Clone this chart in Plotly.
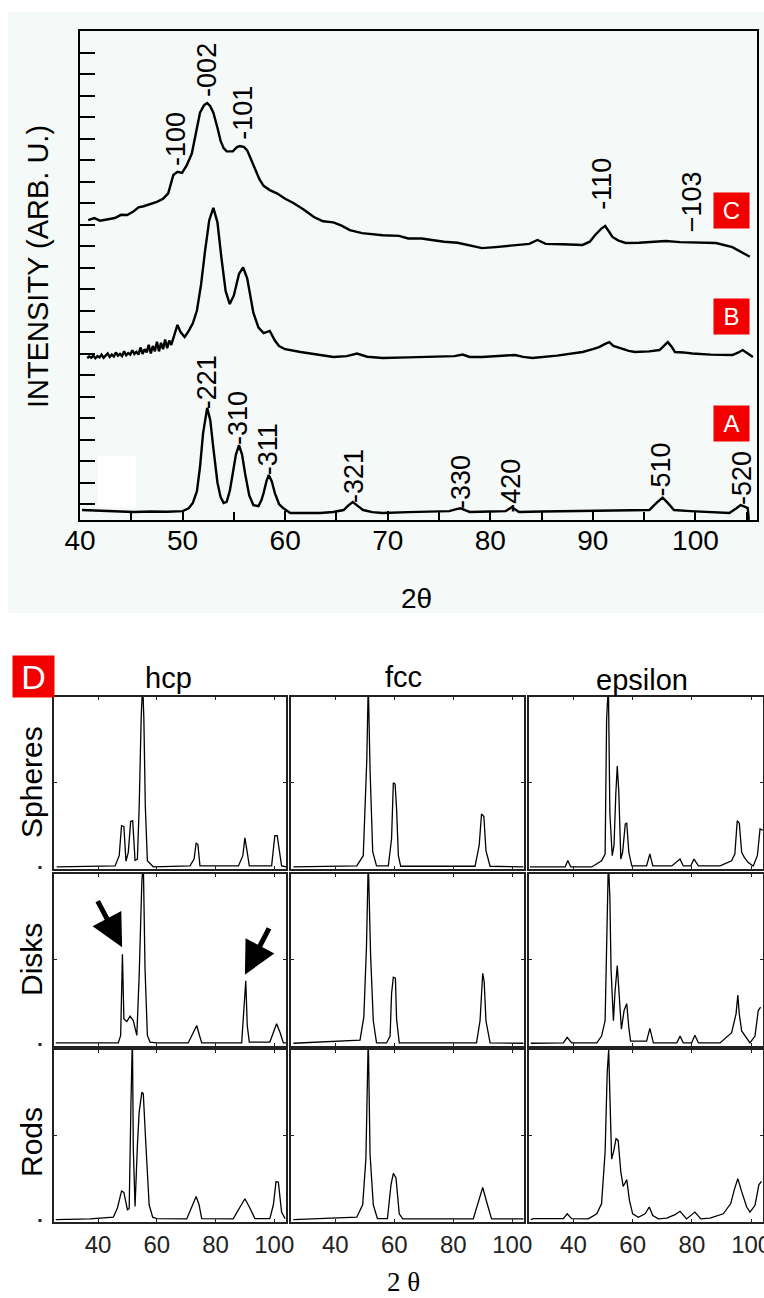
import plotly.graph_objects as go

W, H = 764, 1298

# ---------------- top panel: measured patterns (2theta, intensity arb.) ----------------
top_ticks = [40, 50, 60, 70, 80, 90, 100]

C_x = [40.8, 41.4, 41.95, 42.7, 43.4, 44.0, 44.6, 45.2, 45.7, 46.2, 46.8, 47.5, 48.1, 48.6, 49.1, 49.5,
       49.95, 50.4, 50.9, 51.3, 51.7, 52.1, 52.4, 52.7, 53.0, 53.4, 53.7, 54.0, 54.3, 54.9, 55.3, 55.6,
       56.0, 56.3, 56.7, 57.1, 57.5, 57.9, 58.5, 59.2, 60.0, 60.8, 61.8, 62.8, 63.7, 64.7, 65.5, 66.3,
       67.5, 69.5, 71.1, 72.0, 73.3, 74.3, 75.5, 76.8, 77.9, 79.2, 80.5, 82.0, 83.8, 84.6, 85.4, 87.0,
       89.0, 89.7, 90.2, 90.8, 91.2, 91.6, 91.9, 92.5, 93.2, 94.5, 95.8, 97.1, 98.5, 100.0, 102.0,
       103.6, 104.4, 105.3]
C_y = [13.2, 13.3, 13.18, 13.25, 13.3, 13.45, 13.44, 13.6, 13.8, 13.85, 13.95, 14.05, 14.2, 14.45, 15.3, 15.45,
       15.4, 15.75, 16.3, 17.3, 18.2, 18.55, 18.65, 18.5, 18.2, 17.5, 16.9, 16.55, 16.4, 16.4, 16.6, 16.65,
       16.6, 16.45, 16.0, 15.5, 15.1, 14.8, 14.6, 14.45, 14.2, 14.0, 13.7, 13.35, 13.15, 13.1, 12.95, 12.74,
       12.6, 12.5, 12.47, 12.35, 12.35, 12.28, 12.2, 12.15, 12.05, 11.9, 11.95, 12.02, 12.1, 12.28, 12.1, 12.08,
       12.05, 12.2, 12.5, 12.8, 12.93, 12.65, 12.42, 12.25, 12.14, 12.15, 12.2, 12.23, 12.18, 12.15, 12.14,
       11.95, 11.75, 11.5]

B_x = [40.7, 40.9, 41.1, 41.3, 41.5, 41.7, 41.9, 42.1, 42.3, 42.5, 42.7, 42.9, 43.1, 43.3, 43.5, 43.7,
       43.9, 44.1, 44.3, 44.5, 44.7, 44.9, 45.1, 45.3, 45.5, 45.7, 45.9, 46.1, 46.3, 46.5, 46.7, 46.9,
       47.1, 47.3, 47.5, 47.7, 47.9, 48.1, 48.3, 48.5, 48.7, 48.9, 49.1,
       49.5, 49.8, 50.2, 50.6, 51.0, 51.4, 51.8,
       52.2, 52.6, 53.0, 53.4, 53.8, 54.2, 54.6, 55.0, 55.5, 55.9, 56.3, 56.9, 57.4, 57.9, 58.5, 59.0,
       59.4, 60.0, 61.5, 63.0, 64.7, 66.0, 67.0, 68.0, 69.5, 72.0, 75.0, 76.5, 77.3, 78.0, 79.2, 81.0,
       82.4, 83.2, 84.1, 86.5, 89.0, 90.0, 90.6, 91.2, 91.6, 92.0, 92.6, 93.5, 94.1, 95.5, 96.5, 96.9,
       97.3, 97.7, 98.0, 98.8, 99.7, 101.5, 103.6, 104.2, 104.6, 105.1, 105.6]
B_y = [6.79, 6.86, 6.8, 6.9, 6.78, 6.88, 6.82, 6.95, 6.8, 6.9, 7.0, 6.84, 6.95, 6.86, 7.05, 6.9,
       6.98, 6.88, 7.1, 6.92, 7.02, 6.95, 7.15, 6.98, 7.08, 6.95, 7.28, 6.98, 7.2, 7.05, 7.4, 7.0,
       7.35, 7.1, 7.55, 7.1, 7.5, 7.2, 7.65, 7.25, 7.6, 7.4, 7.7,
       8.33, 8.0, 7.77, 8.05, 8.4, 9.0, 10.2,
       11.8, 13.2, 13.77, 13.1, 11.4, 9.9, 9.3, 9.7, 10.7, 11.0, 10.5, 8.9, 8.2, 7.95, 8.05, 7.6,
       7.35, 7.2, 7.07, 6.95, 6.84, 6.88, 7.0, 6.85, 6.79, 6.82, 6.85, 6.88, 6.95, 6.84, 6.84, 6.88,
       6.93, 6.84, 6.79, 6.9, 7.07, 7.2, 7.3, 7.45, 7.53, 7.35, 7.26, 7.12, 7.07, 7.1, 7.16, 7.35,
       7.53, 7.3, 7.07, 7.05, 7.0, 6.95, 6.93, 7.05, 7.16, 7.0, 6.84]

A_x = [40.2, 41.5, 43.0, 45.2, 47.0, 48.5, 50.0, 50.6, 51.0, 51.4, 51.7, 52.0, 52.4, 52.7, 53.0, 53.4,
       53.7, 54.0, 54.3, 54.6, 54.9, 55.2, 55.5, 55.8, 56.1, 56.5, 56.9, 57.4, 57.7, 57.9, 58.2, 58.4,
       58.7, 59.0, 59.4, 59.8, 60.5, 62.0, 63.4, 64.7, 65.7, 66.2, 66.6, 67.1, 67.6, 68.5, 69.5, 72.0,
       74.0, 76.0, 76.6, 77.1, 77.6, 78.0, 80.0, 81.5, 82.1, 82.8, 85.0, 87.0, 90.0, 93.0, 95.5, 96.2,
       96.8, 97.3, 97.9, 99.5, 102.0, 103.3, 104.0, 104.4, 104.8, 105.1, 105.2]
A_y = [-0.28, -0.3, -0.33, -0.37, -0.35, -0.36, -0.33, -0.2, 0.05, 0.6, 1.72, 3.3, 4.47, 3.9, 2.6, 1.0,
       0.33, 0.05, 0.1, 0.6, 1.44, 2.3, 2.74, 2.3, 1.4, 0.4, -0.05, -0.1, 0.2, 0.51, 1.1, 1.35,
       1.05, 0.5, 0.0, -0.19, -0.42, -0.42, -0.42, -0.37, -0.28, -0.05, 0.09, -0.1, -0.28, -0.38, -0.42, -0.38,
       -0.36, -0.33, -0.25, -0.2, -0.3, -0.37, -0.35, -0.33, -0.15, -0.37, -0.35, -0.33, -0.32, -0.3, -0.28, 0.05,
       0.3, 0.05, -0.28, -0.33, -0.37, -0.42, -0.2, -0.05, -0.12, -0.19, -0.74]

C_labels = ["-100", "-002", "-101", "-110", "\u2212103"]
C_label_x = [49.3, 52.4, 55.9, 90.9, 99.7]
C_label_y = [17.0, 20.2, 18.2, 14.9, 14.05]

A_labels = ["-221", "-310", "-311", "-321", "-330", "-420", "-510", "-520"]
A_label_x = [52.4, 55.4, 58.3, 66.7, 77.1, 82.0, 96.6, 104.6]
A_label_y = [5.67, 4.0, 2.53, 1.3, 1.0, 0.84, 1.58, 1.19]

# ---------------- panel D: simulated patterns ----------------
columns = ["hcp", "fcc", "epsilon"]
rows = ["Spheres", "Disks", "Rods"]
sim_ticks = [40, 60, 80, 100]

hcp_spheres_x = [25.9, 45.8, 47.2, 48.0, 48.8, 49.5, 50.3, 51.1, 51.8, 52.6, 53.4, 54.0, 54.7, 55.2, 55.6, 56.1,
                 56.8, 58.8, 71.3, 72.7, 73.4, 74.0, 74.7, 87.8, 89.3, 90.0, 90.8, 91.5, 99.1, 100.2, 101.0,
                 102.0, 102.5, 104.0]
hcp_spheres_y = [0.005, 0.01, 0.07, 0.246, 0.24, 0.037, 0.09, 0.27, 0.275, 0.042, 0.05, 0.353, 0.885, 1.08, 0.87,
                 0.355, 0.04, 0.005, 0.01, 0.05, 0.145, 0.135, 0.01, 0.01, 0.07, 0.174, 0.09, 0.01, 0.01, 0.188,
                 0.188, 0.05, 0.01, 0.005]

hcp_disks_x = [25.6, 46.9, 47.7, 48.3, 48.8, 49.8, 50.9, 52.0, 53.2, 54.0, 54.9, 55.4, 56.0, 56.8, 57.7, 60.0,
               70.7, 72.4, 73.6, 74.7, 75.3, 88.9, 89.7, 90.3, 90.8, 91.5, 98.5, 99.9, 100.8, 102.0, 103.1, 104.0]
hcp_disks_y = [0.01, 0.01, 0.054, 0.529, 0.15, 0.135, 0.167, 0.141, 0.054, 0.403, 0.948, 1.08, 0.44, 0.054, 0.015,
               0.01, 0.01, 0.074, 0.112, 0.045, 0.01, 0.01, 0.2, 0.374, 0.112, 0.015, 0.015, 0.083, 0.122, 0.07,
               0.01, 0.01]

hcp_rods_x = [25.6, 37.3, 45.2, 46.6, 48.0, 48.8, 50.0, 50.6, 51.2, 51.7, 52.0, 52.6, 53.4, 54.0, 54.9, 55.4,
              56.3, 57.4, 58.6, 60.0, 70.2, 71.9, 73.4, 74.4, 75.3, 86.0, 88.1, 90.0, 91.7, 93.4, 98.5, 99.7,
              100.6, 101.4, 102.5, 103.7]
hcp_rods_y = [0.006, 0.01, 0.02, 0.074, 0.174, 0.165, 0.064, 0.07, 0.684, 1.08, 0.424, 0.083, 0.44, 0.636, 0.752,
              0.745, 0.44, 0.093, 0.02, 0.012, 0.01, 0.074, 0.141, 0.093, 0.012, 0.01, 0.074, 0.128, 0.074, 0.012,
              0.012, 0.093, 0.229, 0.225, 0.05, 0.012]

fcc_spheres_x = [25.8, 47.3, 49.5, 50.7, 51.2, 51.8, 52.7, 54.0, 58.0, 59.1, 59.7, 60.3, 60.8, 61.4, 62.2, 87.4,
                 88.8, 89.6, 90.4, 91.1, 92.5, 103.8]
fcc_spheres_y = [0.004, 0.01, 0.07, 0.634, 1.08, 0.576, 0.093, 0.01, 0.01, 0.169, 0.498, 0.49, 0.343, 0.07, 0.008,
                 0.008, 0.13, 0.314, 0.3, 0.1, 0.008, 0.004]

fcc_disks_x = [25.8, 48.4, 49.7, 50.6, 51.2, 52.0, 52.9, 54.0, 57.4, 58.6, 59.1, 59.7, 60.4, 60.8, 61.7, 87.9,
               89.1, 89.6, 90.0, 90.5, 91.1, 92.5, 103.8]
fcc_disks_y = [0.008, 0.027, 0.163, 0.58, 1.08, 0.52, 0.14, 0.01, 0.01, 0.05, 0.3, 0.395, 0.39, 0.15, 0.01, 0.01,
               0.14, 0.3, 0.418, 0.37, 0.14, 0.01, 0.008]

fcc_rods_x = [25.8, 47.3, 49.3, 50.4, 51.2, 51.8, 52.9, 54.3, 57.7, 58.9, 59.7, 60.6, 61.7, 62.9, 86.8, 88.5,
              90.0, 91.3, 93.0, 103.8]
fcc_rods_y = [0.006, 0.02, 0.093, 0.364, 1.08, 0.39, 0.093, 0.012, 0.012, 0.209, 0.277, 0.25, 0.04, 0.01, 0.01,
              0.112, 0.194, 0.112, 0.01, 0.01]

eps_spheres_x = [25.3, 37.2, 38.1, 39.1, 46.2, 49.5, 50.7, 51.2, 51.8, 52.3, 53.1, 53.7, 54.3, 54.8, 55.3, 56.0,
                 56.6, 57.5, 58.0, 58.7, 59.7, 64.7, 65.8, 66.8, 73.2, 76.0, 77.1, 79.6, 80.7, 82.2, 89.5, 93.4,
                 94.5, 95.3, 96.0, 96.8, 97.7, 99.0, 100.7, 102.1, 103.0, 103.9]
eps_spheres_y = [0.004, 0.004, 0.042, 0.004, 0.004, 0.04, 0.08, 0.866, 1.08, 0.32, 0.07, 0.13, 0.43, 0.595, 0.45,
                 0.05, 0.09, 0.256, 0.26, 0.09, 0.01, 0.01, 0.08, 0.01, 0.01, 0.05, 0.01, 0.01, 0.05, 0.01, 0.01,
                 0.04, 0.08, 0.275, 0.26, 0.09, 0.06, 0.03, 0.01, 0.07, 0.227, 0.22]

eps_disks_x = [25.6, 36.6, 37.9, 39.4, 47.9, 49.5, 50.7, 51.2, 51.8, 52.3, 52.7, 53.5, 54.0, 54.8, 55.5, 56.2,
               57.1, 58.0, 58.7, 59.3, 64.7, 65.8, 67.0, 74.9, 76.0, 77.1, 79.9, 81.0, 82.2, 89.5, 93.4, 94.9,
               95.5, 96.0, 96.8, 99.6, 101.3, 102.4, 103.2]
eps_disks_y = [0.008, 0.01, 0.043, 0.01, 0.01, 0.05, 0.14, 0.686, 1.08, 0.86, 0.44, 0.14, 0.3, 0.463, 0.29, 0.09,
               0.2, 0.24, 0.1, 0.02, 0.02, 0.095, 0.01, 0.01, 0.05, 0.01, 0.01, 0.055, 0.01, 0.01, 0.07, 0.18,
               0.29, 0.18, 0.08, 0.01, 0.05, 0.2, 0.22]

eps_rods_x = [25.6, 26.5, 31.0, 36.6, 37.9, 39.4, 45.0, 47.9, 49.5, 50.7, 51.4, 51.9, 52.3, 52.9, 53.5, 54.4,
              55.1, 56.0, 56.8, 58.0, 58.9, 60.0, 61.9, 64.2, 65.6, 66.8, 68.7, 71.5, 74.3, 76.0, 78.2, 81.0,
              83.0, 86.1, 90.6, 93.1, 94.3, 95.5, 96.8, 98.5, 99.6, 101.3, 102.6, 103.5]
eps_rods_y = [0.006, 0.012, 0.012, 0.012, 0.04, 0.012, 0.01, 0.04, 0.1, 0.403, 0.868, 1.0, 0.74, 0.36, 0.4, 0.48,
              0.47, 0.286, 0.2, 0.24, 0.12, 0.04, 0.02, 0.04, 0.08, 0.03, 0.01, 0.015, 0.035, 0.055, 0.01, 0.05,
              0.01, 0.015, 0.04, 0.1, 0.18, 0.246, 0.17, 0.08, 0.05, 0.09, 0.21, 0.23]

sim_series = [
    [(hcp_spheres_x, hcp_spheres_y), (fcc_spheres_x, fcc_spheres_y), (eps_spheres_x, eps_spheres_y)],
    [(hcp_disks_x, hcp_disks_y), (fcc_disks_x, fcc_disks_y), (eps_disks_x, eps_disks_y)],
    [(hcp_rods_x, hcp_rods_y), (fcc_rods_x, fcc_rods_y), (eps_rods_x, eps_rods_y)],
]

# ---------------- layout helpers (pixel -> paper) ----------------
def px(x):
    return x / W

def py(y):
    return 1 - y / H

SANS = "Liberation Sans, Arial, sans-serif"
SERIF = "Liberation Serif, Times New Roman, serif"
RED = "#f20000"

fig = go.Figure()

for xs, ys in [(C_x, C_y), (B_x, B_y), (A_x, A_y)]:
    fig.add_trace(go.Scatter(x=xs, y=ys, mode="lines", line=dict(color="black", width=2.4),
                             xaxis="x", yaxis="y", showlegend=False, hoverinfo="skip"))

layout = dict(
    width=W, height=H, autosize=False,
    margin=dict(l=0, r=0, t=0, b=0, pad=0, autoexpand=False),
    paper_bgcolor="white", plot_bgcolor="rgba(0,0,0,0)",
    showlegend=False,
    xaxis=dict(domain=[px(80), px(757)], range=[40, 106], tickvals=top_ticks,
               ticks="inside", ticklen=9, tickwidth=2, tickcolor="black",
               minor=dict(dtick=5, tick0=40, ticks="inside", ticklen=8, tickwidth=2, tickcolor="black"),
               showline=True, linecolor="black", linewidth=2, mirror=True, automargin=False,
               showgrid=False, zeroline=False, anchor="y",
               tickfont=dict(family=SANS, size=28, color="black"), ticklabelstandoff=-6),
    yaxis=dict(domain=[py(520), py(31)], range=[-0.744, 22.0], tickvals=list(range(22)),
               ticks="inside", ticklen=15, tickwidth=2, tickcolor="black", automargin=False,
               showticklabels=False, showline=True, linecolor="black", linewidth=2, mirror=True,
               showgrid=False, zeroline=False, anchor="x"),
)

col_px = [(54, 286), (291, 524), (529, 763)]
row_px = [(697, 869), (874, 1046), (1050, 1222)]

for r in range(3):
    for c in range(3):
        n = r * 3 + c + 2
        xs, ys = sim_series[r][c]
        fig.add_trace(go.Scatter(x=xs, y=ys, mode="lines", line=dict(color="black", width=1.3),
                                 xaxis=f"x{n}", yaxis=f"y{n}", showlegend=False, hoverinfo="skip"))
        layout[f"xaxis{n}"] = dict(
            domain=[px(col_px[c][0]), px(col_px[c][1])], range=[25, 104], tickvals=sim_ticks,
            ticks="inside", ticklen=3, tickcolor="#222", showticklabels=(r == 2), automargin=False,
            showline=True, linecolor="#222", linewidth=1.5, mirror="ticks",
            showgrid=False, zeroline=False, anchor=f"y{n}", ticklabeloverflow="allow",
            tickfont=dict(family=SANS, size=24, color="#222"), ticklabelstandoff=0)
        layout[f"yaxis{n}"] = dict(
            domain=[py(row_px[r][1]), py(row_px[r][0])], range=[-0.008, 1.0], tickvals=[0.5],
            ticks="inside", ticklen=3, tickcolor="#222", showticklabels=False, automargin=False,
            showline=True, linecolor="#222", linewidth=1.5, mirror="ticks",
            showgrid=False, zeroline=False, anchor=f"x{n}")

fig.update_layout(**layout)

shapes = [
    dict(type="rect", xref="paper", yref="paper", x0=px(8), x1=px(764), y0=py(613), y1=py(12),
         fillcolor="#f5f9f7", line=dict(width=0), layer="below"),
    dict(type="rect", xref="x", yref="y", x0=41.76, x1=45.46, y0=-0.14, y1=2.23,
         fillcolor="white", line=dict(width=0), layer="below"),
]
for r in range(3):
    yb = row_px[r][1]
    shapes.append(dict(type="rect", xref="paper", yref="paper", x0=px(38.5), x1=px(41.5),
                       y0=py(yb), y1=py(yb - 3), fillcolor="#222", line=dict(width=0)))


def note(text, x, y, size, family=SANS, color="black", angle=0, **kw):
    d = dict(text=text, x=x, y=y, xref="paper", yref="paper", showarrow=False,
             xanchor="center", yanchor="middle", textangle=angle,
             font=dict(family=family, size=size, color=color))
    d.update(kw)
    return d


annotations = []
annotations.append(note("INTENSITY (ARB. U.)", px(38), py(267), 29, angle=-90))
annotations.append(note("2\u03b8", px(417), py(598), 28))
for t, xv, yv in zip(C_labels + A_labels, C_label_x + A_label_x, C_label_y + A_label_y):
    annotations.append(dict(text=t, x=xv, y=yv, xref="x", yref="y", textangle=-90, showarrow=False,
                            xanchor="center", yanchor="middle",
                            font=dict(family=SANS, size=27, color="black")))
for letter, cx, cy in [("C", 731, 210), ("B", 731, 317), ("A", 731, 424)]:
    annotations.append(note(letter, px(cx), py(cy), 24, color="white", bgcolor=RED,
                            width=35, height=35, borderpad=0))
annotations.append(note("D", px(33.5), py(676.5), 34, color="white", bgcolor=RED,
                        width=41, height=41, borderpad=0))
for name, cx, cy in zip(columns, [168, 403, 642], [678, 677, 680]):
    annotations.append(note(name, px(cx), py(cy), 29))
for name, cy in zip(rows, [782, 960, 1142]):
    annotations.append(note(name, px(31), py(cy), 30, angle=-90))
annotations.append(note("2 \u03b8", px(404), py(1282), 27, family=SERIF))
for (tx, ty), (sx, sy) in [((48.2, 0.57), (39.6, 0.85)), ((90.0, 0.41), (98.5, 0.69))]:
    annotations.append(dict(text="", x=tx, y=ty, ax=sx, ay=sy, xref="x5", yref="y5", axref="x5", ayref="y5",
                            showarrow=True, arrowhead=2, arrowsize=1.3, arrowwidth=5, arrowcolor="black"))

fig.update_layout(shapes=shapes, annotations=annotations)

fig.write_html("out.html")
